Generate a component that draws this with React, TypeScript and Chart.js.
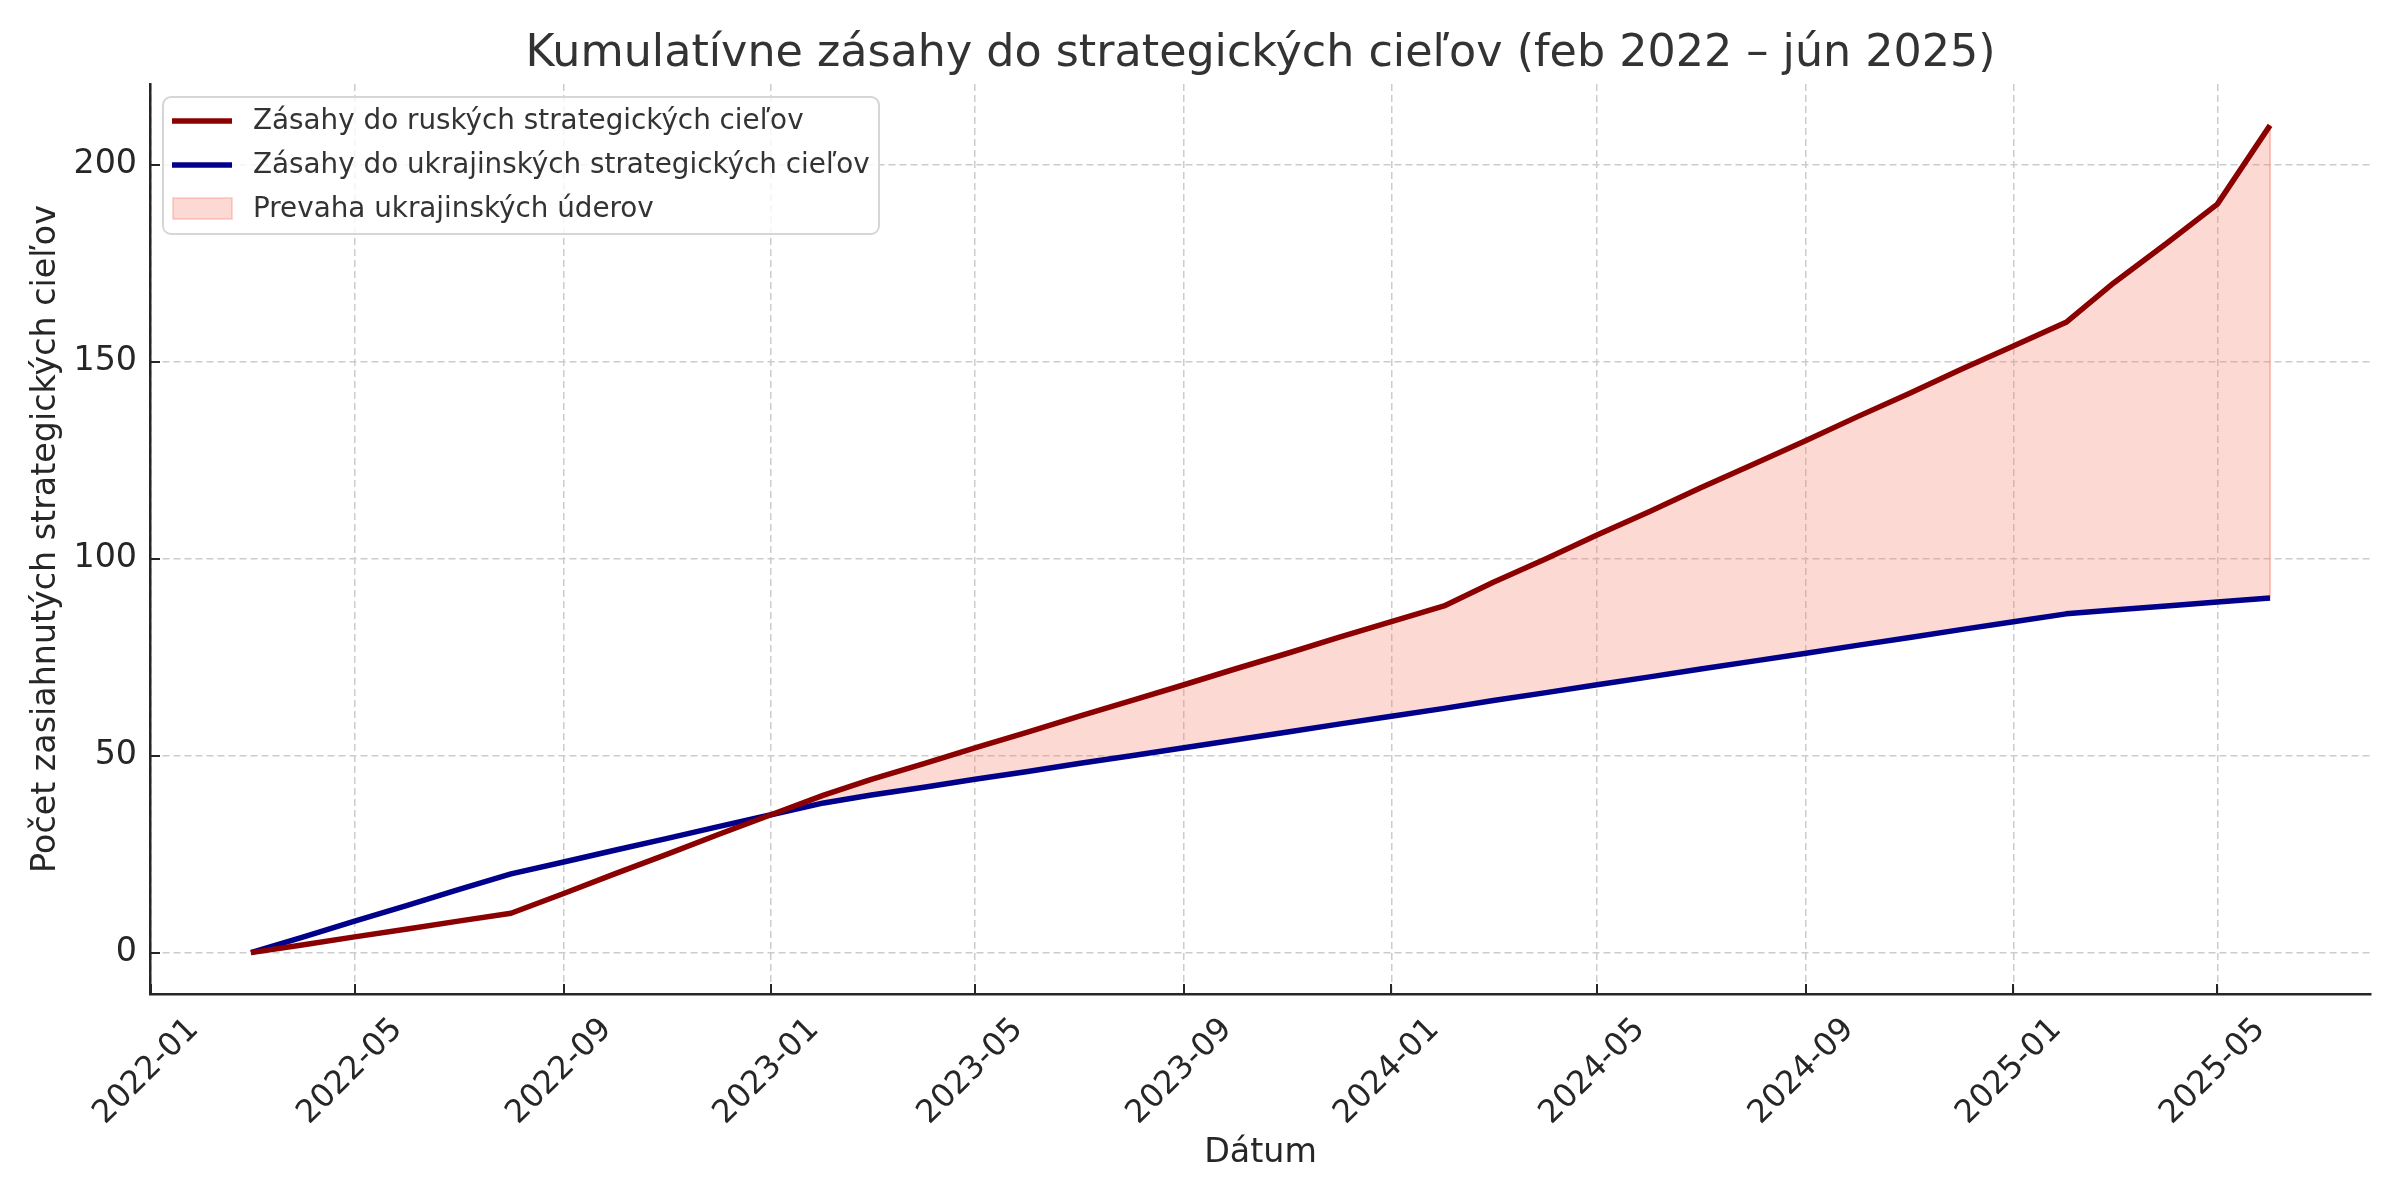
import React, { useEffect, useRef } from 'react';
import { Chart, registerables } from 'chart.js';

Chart.register(...registerables);

// ---------------- data ----------------
const months = [
  '2022-03', '2022-04', '2022-05', '2022-06', '2022-07', '2022-08', '2022-09', '2022-10', '2022-11', '2022-12',
  '2023-01', '2023-02', '2023-03', '2023-04', '2023-05', '2023-06', '2023-07', '2023-08', '2023-09', '2023-10',
  '2023-11', '2023-12', '2024-01', '2024-02', '2024-03', '2024-04', '2024-05', '2024-06', '2024-07', '2024-08',
  '2024-09', '2024-10', '2024-11', '2024-12', '2025-01', '2025-02', '2025-03', '2025-04', '2025-05', '2025-06',
];

const russianTargetHits = [
  0, 2, 4, 6, 8, 10, 15, 20, 25, 30,
  35, 40, 44, 48, 52, 56, 60, 64, 68, 72,
  76, 80, 84, 88, 94, 100, 106, 112, 118, 124,
  130, 136, 142, 148, 154, 160, 170, 180, 190, 210,
];

const ukrainianTargetHits = [
  0, 4, 8, 12, 16, 20, 23, 26, 29, 32,
  35, 38, 40, 42, 44, 46, 48, 50, 52, 54,
  56, 58, 60, 62, 64, 66, 68, 70, 72, 74,
  76, 78, 80, 82, 84, 86, 87, 88, 89, 90,
];

const xTickMonths = [
  '2022-01', '2022-05', '2022-09', '2023-01', '2023-05', '2023-09',
  '2024-01', '2024-05', '2024-09', '2025-01', '2025-05',
];

const yTickValues = [0, 50, 100, 150, 200];

const titleText = 'Kumulatívne zásahy do strategických cieľov (feb 2022 – jún 2025)';
const xAxisTitle = 'Dátum';
const yAxisTitle = 'Počet zasiahnutých strategických cieľov';
const russianLabel = 'Zásahy do ruských strategických cieľov';
const ukrainianLabel = 'Zásahy do ukrajinských strategických cieľov';
const fillLabel = 'Prevaha ukrajinských úderov';

// ---------------- helpers ----------------
const monthToMs = (m: string) => {
  const [y, mo] = m.split('-').map(Number);
  return Date.UTC(y, mo - 1, 1);
};
const formatMonth = (v: number) => {
  const d = new Date(v);
  return `${d.getUTCFullYear()}-${String(d.getUTCMonth() + 1).padStart(2, '0')}`;
};

const FONT = '"DejaVu Sans", "Liberation Sans", sans-serif';
const RED = 'rgb(139,0,0)';
const BLUE = 'rgb(0,0,139)';
const FILL = 'rgba(250,128,114,0.3)';
const FILL_EDGE = 'rgba(250,128,114,0.45)';
const TEXT_DARK = '#262626';
const TEXT_MID = '#333333';
const GRID = '#cccccc';
const LABEL_SIZE = 33.3;
const XTICK_SIZE = 32;

const xValues = months.map(monthToMs);
const xMinData = Math.min(...xValues);
const xMaxData = Math.max(...xValues);
const xPad = (xMaxData - xMinData) * 0.05;
const allY = [...russianTargetHits, ...ukrainianTargetHits];
const yMinData = Math.min(...allY);
const yMaxData = Math.max(...allY);
const yPad = (yMaxData - yMinData) * 0.05;

const titlePlugin = {
  id: 'customTitle',
  afterDraw(chart: any) {
    const { ctx, chartArea } = chart;
    ctx.save();
    ctx.font = `44.4px ${FONT}`;
    ctx.fillStyle = TEXT_MID;
    ctx.textAlign = 'center';
    ctx.textBaseline = 'middle';
    ctx.fillText(titleText, (chartArea.left + chartArea.right) / 2, 54);
    ctx.restore();
  },
};

const fillEdgePlugin = {
  id: 'fillEdge',
  beforeDatasetsDraw(chart: any) {
    const { ctx, scales } = chart;
    const last = months.length - 1;
    const x = scales.x.getPixelForValue(monthToMs(months[last]));
    ctx.save();
    ctx.strokeStyle = FILL_EDGE;
    ctx.lineWidth = 2;
    ctx.beginPath();
    ctx.moveTo(x, scales.y.getPixelForValue(russianTargetHits[last]));
    ctx.lineTo(x, scales.y.getPixelForValue(ukrainianTargetHits[last]));
    ctx.stroke();
    ctx.restore();
  },
};

const innerTicksPlugin = {
  id: 'innerTicks',
  afterDatasetsDraw(chart: any) {
    const { ctx, chartArea, scales } = chart;
    ctx.save();
    ctx.strokeStyle = TEXT_DARK;
    ctx.lineWidth = 2;
    ctx.beginPath();
    scales.x.ticks.forEach((t: any) => {
      const px = Math.round(scales.x.getPixelForValue(t.value));
      ctx.moveTo(px, chartArea.bottom);
      ctx.lineTo(px, chartArea.bottom - 10);
    });
    scales.y.ticks.forEach((t: any) => {
      const py = Math.round(scales.y.getPixelForValue(t.value));
      ctx.moveTo(chartArea.left, py);
      ctx.lineTo(chartArea.left + 10, py);
    });
    ctx.stroke();
    ctx.restore();
  },
};

const legendPlugin = {
  id: 'customLegend',
  afterDraw(chart: any) {
    const { ctx } = chart;
    const ds = chart.data.datasets;
    const x0 = 163;
    const y0 = 97;
    const w = 716;
    const h = 137;
    const r = 8;
    ctx.save();
    ctx.beginPath();
    ctx.moveTo(x0 + r, y0);
    ctx.arcTo(x0 + w, y0, x0 + w, y0 + h, r);
    ctx.arcTo(x0 + w, y0 + h, x0, y0 + h, r);
    ctx.arcTo(x0, y0 + h, x0, y0, r);
    ctx.arcTo(x0, y0, x0 + w, y0, r);
    ctx.closePath();
    ctx.fillStyle = 'rgba(255,255,255,0.8)';
    ctx.fill();
    ctx.strokeStyle = '#d6d6d6';
    ctx.lineWidth = 2;
    ctx.stroke();

    const rows = [121, 165, 208.5];
    ctx.font = `27.8px ${FONT}`;
    ctx.textAlign = 'left';
    ctx.textBaseline = 'middle';
    [0, 1].forEach((i) => {
      ctx.strokeStyle = ds[i].borderColor;
      ctx.lineWidth = 5.5;
      ctx.lineCap = 'butt';
      ctx.beginPath();
      ctx.moveTo(172, rows[i]);
      ctx.lineTo(232, rows[i]);
      ctx.stroke();
      ctx.fillStyle = TEXT_MID;
      ctx.fillText(ds[i].label, 253, rows[i] + 1);
    });
    ctx.fillStyle = FILL;
    ctx.fillRect(173, rows[2] - 10.5, 59, 21);
    ctx.strokeStyle = FILL;
    ctx.lineWidth = 2;
    ctx.strokeRect(173, rows[2] - 10.5, 59, 21);
    ctx.fillStyle = TEXT_MID;
    ctx.fillText(fillLabel, 253, rows[2] + 1);
    ctx.restore();
  },
};

export default function App() {
  const canvasRef = useRef<HTMLCanvasElement | null>(null);

  useEffect(() => {
    if (!canvasRef.current) return;
    const chart = new Chart(canvasRef.current, {
      type: 'line',
      data: {
        datasets: [
          {
            label: russianLabel,
            data: months.map((m, i) => ({ x: monthToMs(m), y: russianTargetHits[i] })),
            borderColor: RED,
            backgroundColor: RED,
            borderWidth: 5.5,
            pointRadius: 0,
            tension: 0,
            borderJoinStyle: 'round',
            fill: { target: 1, above: FILL, below: 'rgba(0,0,0,0)' },
          },
          {
            label: ukrainianLabel,
            data: months.map((m, i) => ({ x: monthToMs(m), y: ukrainianTargetHits[i] })),
            borderColor: BLUE,
            backgroundColor: BLUE,
            borderWidth: 5.5,
            pointRadius: 0,
            tension: 0,
            borderJoinStyle: 'round',
            fill: false,
          },
        ],
      },
      options: {
        responsive: false,
        animation: false,
        devicePixelRatio: 1,
        layout: { padding: { top: 84, right: 29, left: 0, bottom: 0 } },
        plugins: {
          legend: { display: false },
          title: { display: false },
          tooltip: { enabled: false },
          filler: { drawTime: 'beforeDatasetsDraw' },
        },
        scales: {
          x: {
            type: 'linear',
            min: xMinData - xPad,
            max: xMaxData + xPad,
            afterBuildTicks: (scale: any) => {
              scale.ticks = xTickMonths.map((m) => ({ value: monthToMs(m) }));
            },
            afterFit: (scale: any) => {
              scale.height = 206;
            },
            ticks: {
              autoSkip: false,
              minRotation: 45,
              maxRotation: 45,
              labelOffset: 43,
              padding: 17,
              color: TEXT_DARK,
              font: { family: FONT, size: XTICK_SIZE },
              callback: (v: any) => formatMonth(Number(v)),
            },
            grid: {
              color: GRID,
              lineWidth: 1.5,
              drawTicks: false,
            },
            border: { display: true, color: TEXT_DARK, width: 2.5, dash: [7, 4] as any },
            title: {
              display: true,
              text: xAxisTitle,
              color: TEXT_DARK,
              font: { family: FONT, size: LABEL_SIZE },
              padding: { top: 0, bottom: 27 },
            },
          },
          y: {
            type: 'linear',
            min: yMinData - yPad,
            max: yMaxData + yPad,
            afterBuildTicks: (scale: any) => {
              scale.ticks = yTickValues.map((v) => ({ value: v }));
            },
            afterFit: (scale: any) => {
              scale.width = 150;
            },
            ticks: {
              padding: 13,
              color: TEXT_DARK,
              font: { family: FONT, size: LABEL_SIZE },
              callback: (v: any) => String(v),
            },
            grid: {
              color: GRID,
              lineWidth: 1.5,
              drawTicks: false,
            },
            border: { display: true, color: TEXT_DARK, width: 2.5, dash: [7, 4] as any },
            title: {
              display: true,
              text: yAxisTitle,
              color: TEXT_DARK,
              font: { family: FONT, size: LABEL_SIZE },
              padding: { top: 26, bottom: 0 },
            },
          },
        },
      },
      plugins: [fillEdgePlugin, titlePlugin, innerTicksPlugin, legendPlugin],
    } as any);
    return () => chart.destroy();
  }, []);

  return (
    <div style={{ position: 'absolute', left: 0, top: 0, width: 2400, height: 1200, background: '#ffffff' }}>
      <canvas ref={canvasRef} width={2400} height={1200} style={{ width: 2400, height: 1200, display: 'block' }} />
    </div>
  );
}
